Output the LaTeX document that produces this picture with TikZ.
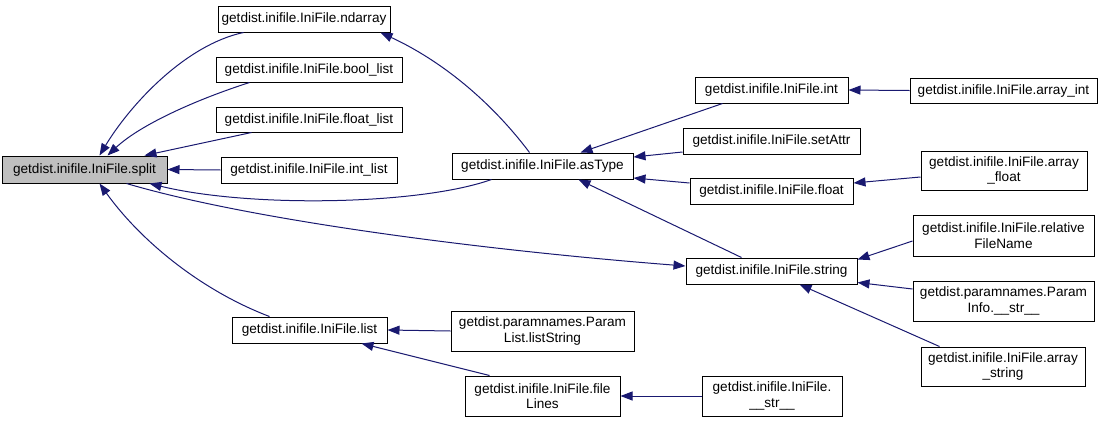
\documentclass[tikz,border=0pt]{standalone}
\usepackage{fontspec}
\setmainfont{Liberation Sans}
\usetikzlibrary{arrows.meta,calc}
\definecolor{edgec}{HTML}{191970}
\definecolor{splitfill}{HTML}{BFBFBF}
\begin{document}
\begin{tikzpicture}[x=1pt,y=-1pt,
  box/.style={draw=black,line width=1pt,fill=white,inner sep=0pt,align=center,font=\fontsize{13.6}{15.5}\selectfont},
  edge/.style={draw=edgec,line width=1pt,-{Triangle[length=12pt,width=9pt]}}]
\useasboundingbox (0,0) rectangle (1104,421);
% nodes
\node[box,fill=splitfill,minimum width=165pt,minimum height=27pt] (split) at (84.5,169.5) {getdist.inifile.IniFile.split};
\node[box,minimum width=172pt,minimum height=26pt] (ndarray) at (304,19) {getdist.inifile.IniFile.ndarray};
\node[box,minimum width=186pt,minimum height=25pt] (boollist) at (309,69.5) {getdist.inifile.IniFile.bool\_list};
\node[box,minimum width=186pt,minimum height=25pt] (floatlist) at (309,119.5) {getdist.inifile.IniFile.float\_list};
\node[box,minimum width=176pt,minimum height=26pt] (intlist) at (309,170) {getdist.inifile.IniFile.int\_list};
\node[box,minimum width=155pt,minimum height=26pt] (list) at (309.5,330) {getdist.inifile.IniFile.list};
\node[box,minimum width=181pt,minimum height=26pt] (astype) at (542.5,166) {getdist.inifile.IniFile.asType};
\node[box,minimum width=183pt,minimum height=40pt] (liststring) at (542.5,331) {getdist.paramnames.Param\\List.listString};
\node[box,minimum width=155pt,minimum height=40pt] (filelines) at (542.5,396) {getdist.inifile.IniFile.file\\Lines};
\node[box,minimum width=153pt,minimum height=26pt] (int) at (771.5,90) {getdist.inifile.IniFile.int};
\node[box,minimum width=177pt,minimum height=26pt] (setattr) at (771.5,141) {getdist.inifile.IniFile.setAttr};
\node[box,minimum width=163pt,minimum height=26pt] (float) at (771.5,191) {getdist.inifile.IniFile.float};
\node[box,minimum width=171pt,minimum height=26pt] (string) at (771.5,271) {getdist.inifile.IniFile.string};
\node[box,minimum width=140pt,minimum height=40pt] (str) at (772,396) {getdist.inifile.IniFile.\\\_\_str\_\_};
\node[box,minimum width=187pt,minimum height=25pt] (arrayint) at (1003.5,90.5) {getdist.inifile.IniFile.array\_int};
\node[box,minimum width=166pt,minimum height=39pt] (arrayfloat) at (1004,170.5) {getdist.inifile.IniFile.array\\\_float};
\node[box,minimum width=181pt,minimum height=41pt] (relfile) at (1003.5,235.5) {getdist.inifile.IniFile.relative\\FileName};
\node[box,minimum width=181pt,minimum height=40pt] (paraminfo) at (1003.5,301) {getdist.paramnames.Param\\Info.\_\_str\_\_};
\node[box,minimum width=164pt,minimum height=39pt] (arraystring) at (1003,366.5) {getdist.inifile.IniFile.array\\\_string};
% edges
\draw[edge] ($(ndarray.south west)+(26,0)$) .. controls (185,45) and (130,105) .. ($(split.north west)+(98,0)$);
\draw[edge] ($(boollist.south west)+(34,0)$) .. controls (195,100) and (140,125) .. ($(split.north west)+(106,0)$);
\draw[edge] ($(floatlist.south west)+(36,0)$) -- ($(split.north west)+(143,0)$);
\draw[edge] (intlist.west) -- (split.east);
\draw[edge] ($(astype.south west)+(40,0)$) .. controls (420,205) and (250,208) .. ($(split.south west)+(148,0)$);
\draw[edge] ($(split.south west)+(125,0)$) .. controls (250,220) and (480,250) .. ($(string.west)+(0,-5)$);
\draw[edge] ($(list.north west)+(38,0)$) .. controls (200,290) and (140,240) .. ($(split.south west)+(98,0)$);
\draw[edge] ($(astype.north west)+(78,0)$) .. controls (490,100) and (440,60) .. ($(ndarray.south east)+(-10,0)$);
\draw[edge] ($(int.south west)+(28,0)$) -- ($(astype.north east)+(-53,0)$);
\draw[edge] ($(setattr.west)+(0,11)$) -- ($(astype.east)+(0,-9)$);
\draw[edge] ($(float.west)+(0,-8)$) -- ($(astype.east)+(0,12)$);
\draw[edge] ($(string.north west)+(56,0)$) -- ($(astype.south east)+(-55,0)$);
\draw[edge] (arrayint.west) -- (int.east);
\draw[edge] ($(arrayfloat.west)+(0,6.5)$) -- ($(float.east)+(0,-8)$);
\draw[edge] ($(relfile.west)+(0,5.5)$) -- ($(string.north east)+(0,2)$);
\draw[edge] ($(paraminfo.west)+(0,-12)$) -- ($(string.south east)+(0,-2)$);
\draw[edge] ($(arraystring.north west)+(19,0)$) -- ($(string.south west)+(114,0)$);
\draw[edge] (liststring.west) -- (list.east);
\draw[edge] ($(filelines.north west)+(25,0)$) -- ($(list.south west)+(130,0)$);
\draw[edge] (str.west) -- (filelines.east);
\end{tikzpicture}
\end{document}
